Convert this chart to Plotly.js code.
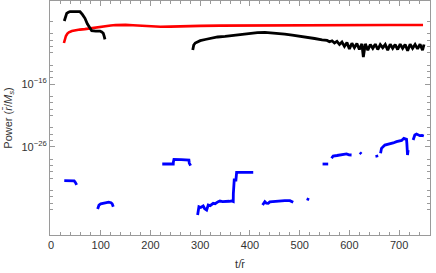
<!DOCTYPE html>
<html><head><meta charset="utf-8">
<script src="https://cdn.plot.ly/plotly-3.0.1.min.js"></script>
<style>html,body{margin:0;padding:0;background:#fff}#chart{width:436px;height:273px}</style>
</head><body><div id="chart"></div>
<script>
// values stored as log10(power)
const redX = [26, 28, 30, 33, 36, 42, 48, 58, 68, 78, 88, 98, 110, 120, 130, 140, 150, 165, 180, 200, 220, 240, 260, 280, 300, 340, 380, 420, 460, 500, 560, 620, 680, 748];
const redLog = [-9.46, -8.9, -8.34, -7.95, -7.75, -7.55, -7.42, -7.32, -7.25, -7.12, -7.0, -6.92, -6.8, -6.67, -6.6, -6.56, -6.56, -6.62, -6.7, -6.8, -6.86, -6.84, -6.78, -6.74, -6.72, -6.68, -6.66, -6.63, -6.61, -6.6, -6.59, -6.59, -6.59, -6.59];

const black1X = [26.7, 29, 31.6, 35, 38.2, 48, 58.3, 63, 68.3, 73, 78.4, 81.8, 90, 98.5, 102, 105.1, 107, 108.5];
const black1Log = [-5.95, -5.2, -4.72, -4.55, -4.47, -4.45, -4.47, -4.9, -5.52, -6.4, -7.12, -7.5, -7.55, -7.55, -7.7, -7.91, -8.4, -8.87];

const black2X = [285, 286, 287, 290, 295, 300, 310, 320, 335, 350, 365, 380, 400, 415, 430, 450, 470, 485, 500, 515, 530, 545, 555, 560, 565,
  570, 575, 580, 585, 590, 595, 600, 605, 610, 615, 620, 625, 628, 632, 637, 642, 647, 652, 657, 662, 667, 672, 677, 682, 687, 692, 697, 702, 707, 712, 717, 722, 727, 732, 737, 742, 747, 750];
const black2Log = [-10.58, -10.1, -9.78, -9.46, -9.3, -9.09, -8.9, -8.71, -8.5, -8.4, -8.26, -8.07, -7.87, -7.8, -7.75, -7.83, -8.03, -8.2, -8.42, -8.6, -8.74, -8.95, -9.05, -9.25, -9.1,
  -9.45, -9.2, -9.7, -9.3, -10.0, -9.4, -10.4, -9.5, -10.2, -9.55, -10.5, -9.6, -11.7, -9.6, -10.6, -9.7, -10.3, -9.65, -10.5, -9.7, -10.2, -9.7, -10.6, -9.65, -10.3, -9.7, -10.5, -9.65, -10.3, -9.7, -10.7, -9.65, -10.3, -9.7, -10.4, -9.65, -10.6, -9.7];

// blue segments, null = gap
const blueX = [26.7, 35, 42, 46.6, 49, 51.6, null,
  93.8, 96.5, 100, 105.1, 111.9, 116, 120.6, 123, 125.2, null,
  223.7, 235, 245.8, 246, 247.2, 262, 277.3, 278, 280.7, null,
  294.8, 297.4, 301, 306, 309, 312.9, 316.1, 320, 326.2, 330, 336.2, 339.6, 345, 352, 358, 363.1, 366.4, 366.6, 368.4, 371.8, 372, 373.2, 390, 406.6, null,
  425.4, 430, 433, 436.7, 440, 443.5, 452, 460.2, 470, 480.3, 487, null,
  514, 517, 519, null,
  546, 552, 557.3, null,
  564.1, 567.3, 575, 587.4, 594.2, 599, 604.3, null,
  621, 624, null,
  654.5, 655.7, null,
  662.6, 664.5, 671.2, 676, 681.2, 688, 694.7, 701.3, 705, 709.4, 714.8, 715.5, 716.8, 718, null,
  728.1, 731.5, 734.9, 738, 741.6, 746, 749.6];
const blueLog = [-31.42, -31.42, -31.42, -31.45, -31.7, -32.1, null,
  -35.94, -35.3, -35.1, -35.03, -34.87, -34.85, -34.93, -35.1, -35.57, null,
  -28.76, -28.76, -28.76, -28.45, -28.01, -28.05, -28.12, -28.6, -29.03, null,
  -36.89, -35.57, -35.7, -35.46, -35.9, -36.1, -35.3, -35.4, -35.03, -35.1, -34.77, -34.66, -34.75, -34.66, -34.7, -34.66, -34.75, -33.5, -31.31, -31.31, -30.6, -30.08, -30.08, -30.08, null,
  -35.3, -34.77, -35.0, -35.03, -34.8, -34.77, -34.65, -34.61, -34.6, -34.61, -34.87, null,
  -34.3, -34.39, -34.45, null,
  -28.76, -28.76, -28.76, null,
  -27.85, -27.48, -27.4, -27.32, -27.16, -27.3, -27.32, null,
  -26.9, -27.16, null,
  -27.3, -27.7, null,
  -27.05, -26.26, -25.73, -25.65, -25.57, -25.4, -25.2, -25.09, -25.0, -24.66, -24.82, -25.5, -27.32, -26.53, null,
  -24.93, -24.13, -23.97, -24.1, -24.24, -24.2, -24.29];

const toPow = a => a.map(v => v === null ? null : Math.pow(10, v));

const yMajorVals = [1e-16, 1e-26];
const yMajorText = ['10<sup>\u221216</sup>', '10<sup>\u221226</sup>'];
const yMinorLog = [-6, -8, -9, -10, -11, -13, -14, -15, -18, -19, -20, -21, -23, -24, -25, -28, -29, -30, -31, -33, -34, -35, -36];

const font = {family: 'Liberation Sans, Arial, sans-serif', size: 11, color: '#333'};

const traces = [
  {x: redX, y: toPow(redLog), mode: 'lines', line: {color: '#ff0000', width: 2.6}, hoverinfo: 'skip'},
  {x: black1X, y: toPow(black1Log), mode: 'lines', line: {color: '#000000', width: 2.8}, hoverinfo: 'skip'},
  {x: black2X, y: toPow(black2Log), mode: 'lines', line: {color: '#000000', width: 2.8}, hoverinfo: 'skip'},
  {x: blueX, y: toPow(blueLog), mode: 'lines', connectgaps: false, line: {color: '#0000ff', width: 2.8}, hoverinfo: 'skip'}
];

const layout = {
  width: 436, height: 273,
  margin: {l: 50, r: 6, t: 1, b: 38},
  paper_bgcolor: '#fff', plot_bgcolor: '#fff',
  showlegend: false,
  font: font,
  xaxis: {
    range: [-2, 762], showgrid: false, zeroline: false,
    showline: true, linecolor: '#9a9a9a', linewidth: 1, mirror: 'allticks',
    ticks: 'inside', ticklen: 5, tickcolor: '#9a9a9a', dtick: 100, tick0: 0,
    minor: {ticks: 'inside', ticklen: 3, dtick: 20, tick0: 0, tickcolor: '#9a9a9a', showgrid: false},
    tickfont: font,
    title: {text: 't/r\u0304', font: font, standoff: 10}
  },
  yaxis: {
    type: 'log', range: [-40.08, -2.76], showgrid: false, zeroline: false,
    showline: true, linecolor: '#9a9a9a', linewidth: 1, mirror: 'allticks',
    ticks: 'inside', ticklen: 5, tickcolor: '#9a9a9a',
    tickmode: 'array', tickvals: yMajorVals, ticktext: yMajorText,
    minor: {ticks: 'inside', ticklen: 3, tickmode: 'array', tickvals: toPow(yMinorLog), tickcolor: '#9a9a9a', showgrid: false},
    tickfont: font,
    title: {text: 'Power (<i>r\u0304</i>/<i>M<sub>s</sub></i>)', font: font, standoff: 6}
  }
};
Plotly.newPlot('chart', traces, layout, {staticPlot: true, displayModeBar: false});
</script></body></html>
